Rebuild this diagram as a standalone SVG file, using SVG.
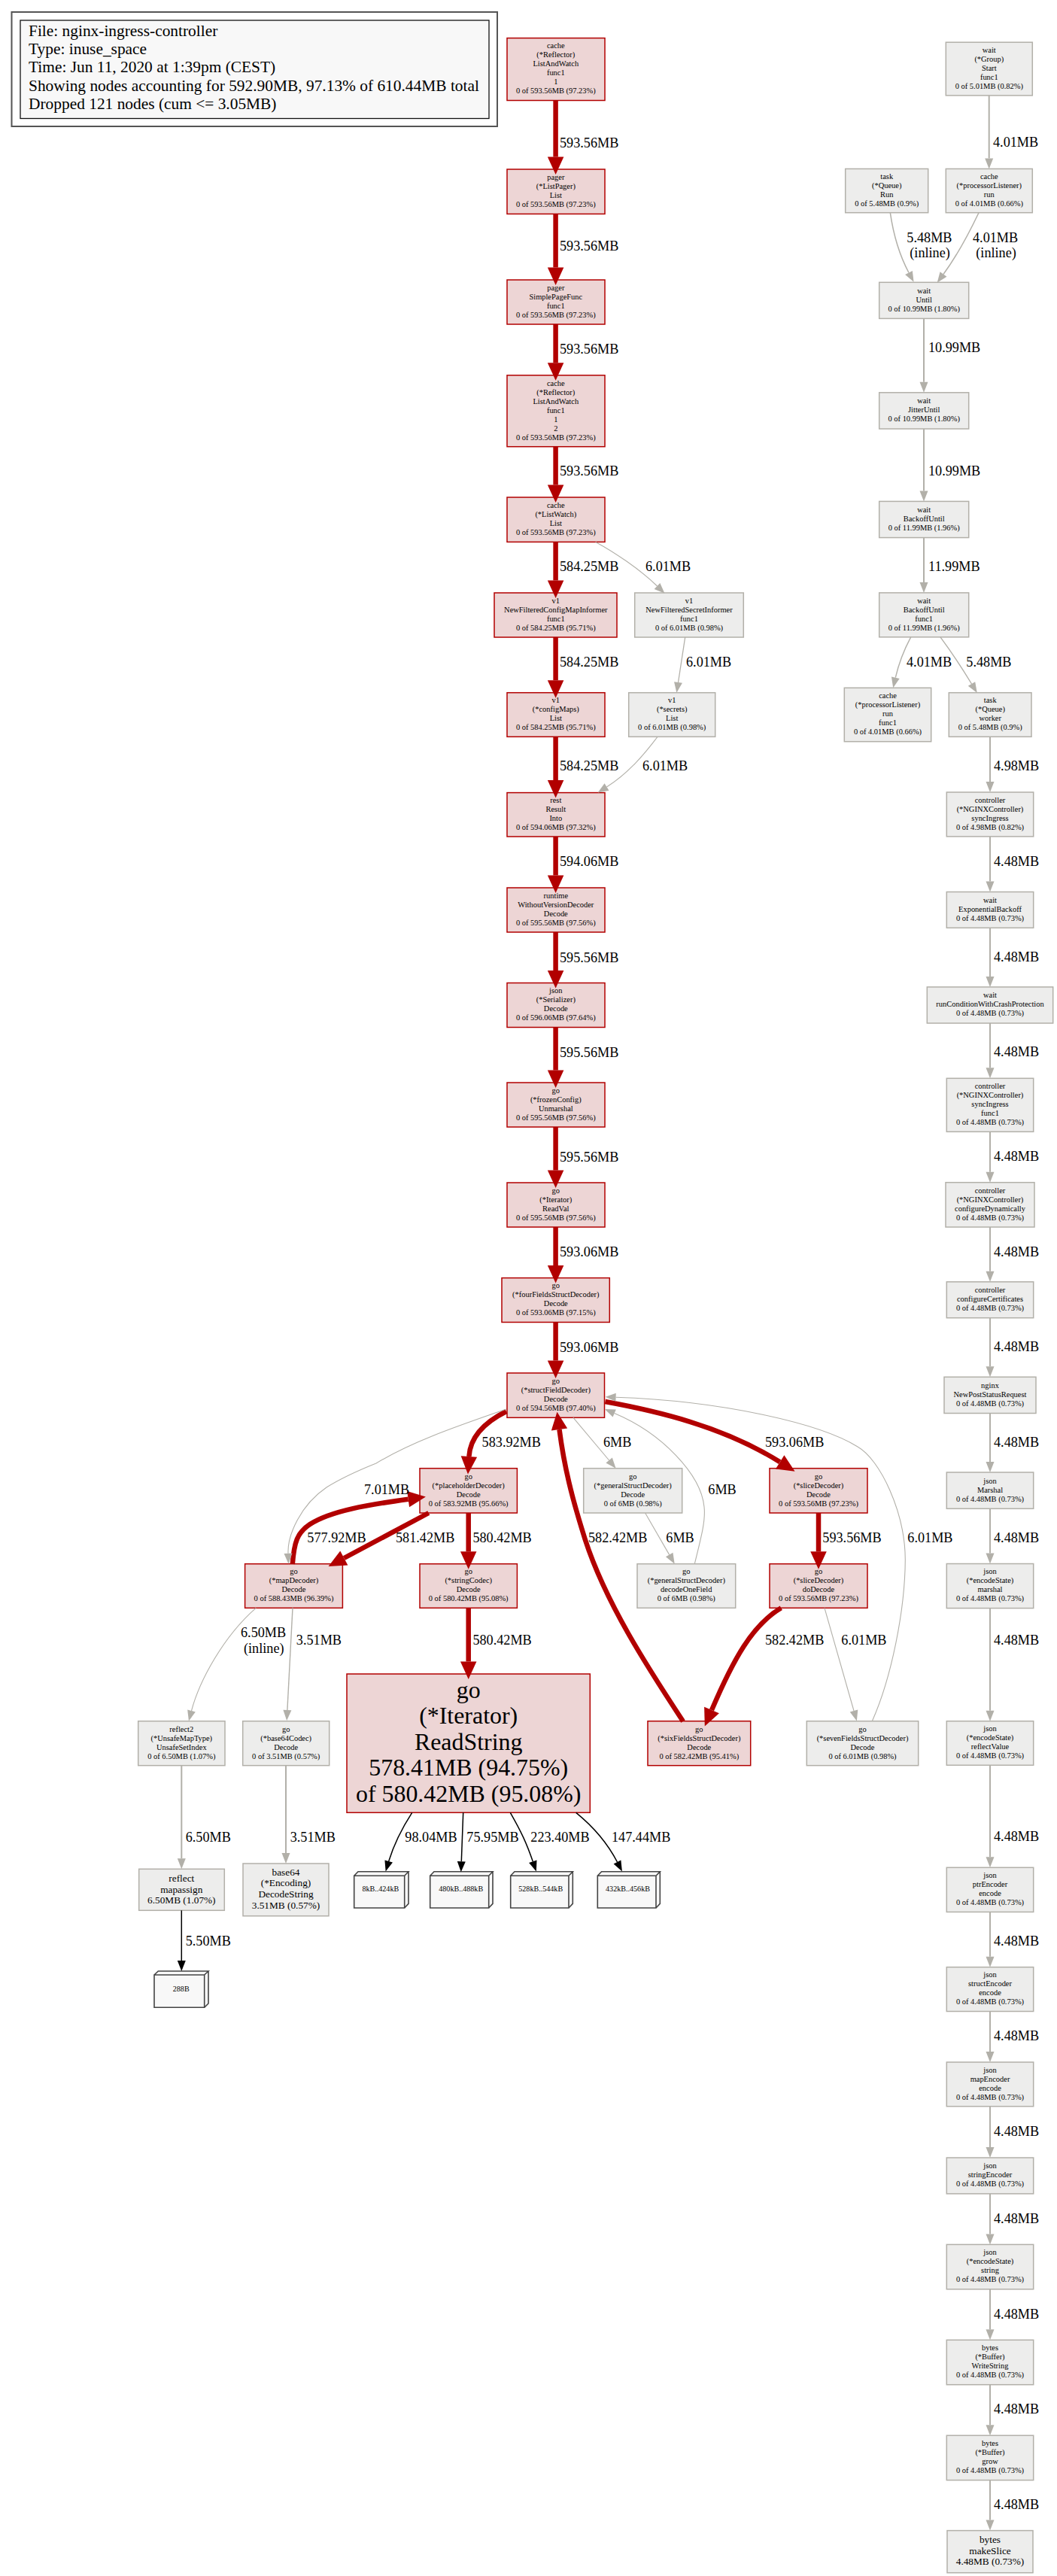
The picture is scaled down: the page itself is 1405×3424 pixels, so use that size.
<svg xmlns="http://www.w3.org/2000/svg" width="1405" height="3424" viewBox="0 0 1405 3424">
<style>
text{font-family:"Liberation Serif","Times New Roman",serif;fill:#000}
.n{font-size:10.45px;text-anchor:middle}
.l{font-size:18.2px}
.lg{font-size:21.4px}
.m{font-size:13.3px;text-anchor:middle}
.b{font-size:10.1px;text-anchor:middle}
.big{font-size:31.9px;text-anchor:middle}
.r{fill:#edd5d5;stroke:#b20000;stroke-width:1.5}
.g{fill:#ededec;stroke:#b2b0a9;stroke-width:1.5}
.d{fill:#f8f8f8;stroke:#444;stroke-width:1.6;stroke-linejoin:miter}
.er{fill:none;stroke:#b20000;stroke-width:6.5;marker-end:url(#ar)}
.eg{fill:none;stroke:#b2b0a9;stroke-width:2;marker-end:url(#ag)}
.et{fill:none;stroke:#b2b0a9;stroke-width:1.1;marker-end:url(#ag)}
.ek{fill:none;stroke:#000;stroke-width:1.5;marker-end:url(#ak)}
</style>
<defs>
<marker id="ar" markerUnits="userSpaceOnUse" markerWidth="30" markerHeight="30" refX="0" refY="0" orient="auto" overflow="visible"><polygon points="0,-10.75 23.5,0 0,10.75" fill="#b20000"/></marker>
<marker id="ag" markerUnits="userSpaceOnUse" markerWidth="20" markerHeight="20" refX="0" refY="0" orient="auto" overflow="visible"><polygon points="0,-5.5 14,0 0,5.5" fill="#b2b0a9"/></marker>
<marker id="ak" markerUnits="userSpaceOnUse" markerWidth="20" markerHeight="20" refX="0" refY="0" orient="auto" overflow="visible"><polygon points="0,-5.5 14,0 0,5.5" fill="#000"/></marker>
</defs>
<rect width="1405" height="3424" fill="#fff"/>
<g id="legend">
<rect x="15.5" y="16" width="645.5" height="152" fill="#fff" stroke="#555" stroke-width="2"/>
<rect x="27" y="27" width="623" height="130.5" fill="#f8f8f8" stroke="#111" stroke-width="1.3"/>
<text class="lg" x="38" y="48">File: nginx-ingress-controller</text>
<text class="lg" x="38" y="72.2">Type: inuse_space</text>
<text class="lg" x="38" y="96.4">Time: Jun 11, 2020 at 1:39pm (CEST)</text>
<text class="lg" x="38" y="120.6">Showing nodes accounting for 592.90MB, 97.13% of 610.44MB total</text>
<text class="lg" x="38" y="144.8">Dropped 121 nodes (cum &lt;= 3.05MB)</text>
</g>
<g id="n1"><rect class="r" x="674" y="50.6" width="130" height="82.9"/><text class="n" y="64.3"><tspan x="738.8">cache</tspan><tspan x="738.8" dy="12">(*Reflector)</tspan><tspan x="738.8" dy="12">ListAndWatch</tspan><tspan x="738.8" dy="12">func1</tspan><tspan x="738.8" dy="12">1</tspan><tspan x="738.8" dy="12">0 of 593.56MB (97.23%)</tspan></text></g>
<g id="n2"><rect class="r" x="674" y="225" width="130" height="59.4"/><text class="n" y="239"><tspan x="738.8">pager</tspan><tspan x="738.8" dy="12">(*ListPager)</tspan><tspan x="738.8" dy="12">List</tspan><tspan x="738.8" dy="12">0 of 593.56MB (97.23%)</tspan></text></g>
<g id="n3"><rect class="r" x="674" y="372" width="130" height="59"/><text class="n" y="385.8"><tspan x="738.8">pager</tspan><tspan x="738.8" dy="12">SimplePageFunc</tspan><tspan x="738.8" dy="12">func1</tspan><tspan x="738.8" dy="12">0 of 593.56MB (97.23%)</tspan></text></g>
<g id="n4"><rect class="r" x="674" y="498.8" width="130" height="94.9"/><text class="n" y="512.5"><tspan x="738.8">cache</tspan><tspan x="738.8" dy="12">(*Reflector)</tspan><tspan x="738.8" dy="12">ListAndWatch</tspan><tspan x="738.8" dy="12">func1</tspan><tspan x="738.8" dy="12">1</tspan><tspan x="738.8" dy="12">2</tspan><tspan x="738.8" dy="12">0 of 593.56MB (97.23%)</tspan></text></g>
<g id="n5"><rect class="r" x="674" y="661" width="130" height="59.4"/><text class="n" y="675"><tspan x="738.8">cache</tspan><tspan x="738.8" dy="12">(*ListWatch)</tspan><tspan x="738.8" dy="12">List</tspan><tspan x="738.8" dy="12">0 of 593.56MB (97.23%)</tspan></text></g>
<g id="n6"><rect class="r" x="657" y="788" width="163" height="59"/><text class="n" y="801.8"><tspan x="738.8">v1</tspan><tspan x="738.8" dy="12">NewFilteredConfigMapInformer</tspan><tspan x="738.8" dy="12">func1</tspan><tspan x="738.8" dy="12">0 of 584.25MB (95.71%)</tspan></text></g>
<g id="n7"><rect class="g" x="843.7" y="788" width="144.6" height="59"/><text class="n" y="801.8"><tspan x="916">v1</tspan><tspan x="916" dy="12">NewFilteredSecretInformer</tspan><tspan x="916" dy="12">func1</tspan><tspan x="916" dy="12">0 of 6.01MB (0.98%)</tspan></text></g>
<g id="n8"><rect class="r" x="674" y="920.7" width="130" height="58.6"/><text class="n" y="934.3"><tspan x="738.8">v1</tspan><tspan x="738.8" dy="12">(*configMaps)</tspan><tspan x="738.8" dy="12">List</tspan><tspan x="738.8" dy="12">0 of 584.25MB (95.71%)</tspan></text></g>
<g id="n9"><rect class="g" x="835.7" y="920.7" width="115" height="58.6"/><text class="n" y="934.3"><tspan x="893.2">v1</tspan><tspan x="893.2" dy="12">(*secrets)</tspan><tspan x="893.2" dy="12">List</tspan><tspan x="893.2" dy="12">0 of 6.01MB (0.98%)</tspan></text></g>
<g id="n10"><rect class="r" x="674" y="1053.6" width="130" height="58.4"/><text class="n" y="1067.1"><tspan x="738.8">rest</tspan><tspan x="738.8" dy="12">Result</tspan><tspan x="738.8" dy="12">Into</tspan><tspan x="738.8" dy="12">0 of 594.06MB (97.32%)</tspan></text></g>
<g id="n11"><rect class="r" x="674" y="1180" width="130" height="59"/><text class="n" y="1193.8"><tspan x="738.8">runtime</tspan><tspan x="738.8" dy="12">WithoutVersionDecoder</tspan><tspan x="738.8" dy="12">Decode</tspan><tspan x="738.8" dy="12">0 of 595.56MB (97.56%)</tspan></text></g>
<g id="n12"><rect class="r" x="674" y="1306.5" width="130" height="59"/><text class="n" y="1320.3"><tspan x="738.8">json</tspan><tspan x="738.8" dy="12">(*Serializer)</tspan><tspan x="738.8" dy="12">Decode</tspan><tspan x="738.8" dy="12">0 of 596.06MB (97.64%)</tspan></text></g>
<g id="n13"><rect class="r" x="674" y="1439" width="130" height="59"/><text class="n" y="1452.8"><tspan x="738.8">go</tspan><tspan x="738.8" dy="12">(*frozenConfig)</tspan><tspan x="738.8" dy="12">Unmarshal</tspan><tspan x="738.8" dy="12">0 of 595.56MB (97.56%)</tspan></text></g>
<g id="n14"><rect class="r" x="674" y="1572" width="130" height="59"/><text class="n" y="1585.8"><tspan x="738.8">go</tspan><tspan x="738.8" dy="12">(*Iterator)</tspan><tspan x="738.8" dy="12">ReadVal</tspan><tspan x="738.8" dy="12">0 of 595.56MB (97.56%)</tspan></text></g>
<g id="n15"><rect class="r" x="667" y="1698.6" width="143.3" height="58.9"/><text class="n" y="1712.3"><tspan x="738.8">go</tspan><tspan x="738.8" dy="12">(*fourFieldsStructDecoder)</tspan><tspan x="738.8" dy="12">Decode</tspan><tspan x="738.8" dy="12">0 of 593.06MB (97.15%)</tspan></text></g>
<g id="n16"><rect class="r" x="674" y="1825" width="129.5" height="59.3"/><text class="n" y="1839"><tspan x="738.8">go</tspan><tspan x="738.8" dy="12">(*structFieldDecoder)</tspan><tspan x="738.8" dy="12">Decode</tspan><tspan x="738.8" dy="12">0 of 594.56MB (97.40%)</tspan></text></g>
<g id="n17"><rect class="r" x="558" y="1951.7" width="129.4" height="59.3"/><text class="n" y="1965.6"><tspan x="622.7">go</tspan><tspan x="622.7" dy="12">(*placeholderDecoder)</tspan><tspan x="622.7" dy="12">Decode</tspan><tspan x="622.7" dy="12">0 of 583.92MB (95.66%)</tspan></text></g>
<g id="n18"><rect class="r" x="325.6" y="2078.7" width="129.8" height="58.6"/><text class="n" y="2092.3"><tspan x="390.5">go</tspan><tspan x="390.5" dy="12">(*mapDecoder)</tspan><tspan x="390.5" dy="12">Decode</tspan><tspan x="390.5" dy="12">0 of 588.43MB (96.39%)</tspan></text></g>
<g id="n19"><rect class="r" x="558" y="2078.7" width="129.4" height="58.6"/><text class="n" y="2092.3"><tspan x="622.7">go</tspan><tspan x="622.7" dy="12">(*stringCodec)</tspan><tspan x="622.7" dy="12">Decode</tspan><tspan x="622.7" dy="12">0 of 580.42MB (95.08%)</tspan></text></g>
<g id="n20"><rect class="r" x="461" y="2225" width="323.3" height="184.3"/><text class="big" y="2257"><tspan x="622.7">go</tspan><tspan x="622.7" dy="34.4">(*Iterator)</tspan><tspan x="622.7" dy="34.4">ReadString</tspan><tspan x="622.7" dy="34.4">578.41MB (94.75%)</tspan><tspan x="622.7" dy="34.4">of 580.42MB (95.08%)</tspan></text></g>
<g id="n21"><rect class="g" x="775.7" y="1951.7" width="131" height="59.3"/><text class="n" y="1965.6"><tspan x="841.2">go</tspan><tspan x="841.2" dy="12">(*generalStructDecoder)</tspan><tspan x="841.2" dy="12">Decode</tspan><tspan x="841.2" dy="12">0 of 6MB (0.98%)</tspan></text></g>
<g id="n22"><rect class="g" x="847" y="2078.7" width="130.7" height="58.6"/><text class="n" y="2092.3"><tspan x="912.3">go</tspan><tspan x="912.3" dy="12">(*generalStructDecoder)</tspan><tspan x="912.3" dy="12">decodeOneField</tspan><tspan x="912.3" dy="12">0 of 6MB (0.98%)</tspan></text></g>
<g id="n23"><rect class="r" x="1023" y="1951.7" width="130" height="59.3"/><text class="n" y="1965.6"><tspan x="1088">go</tspan><tspan x="1088" dy="12">(*sliceDecoder)</tspan><tspan x="1088" dy="12">Decode</tspan><tspan x="1088" dy="12">0 of 593.56MB (97.23%)</tspan></text></g>
<g id="n24"><rect class="r" x="1023" y="2078.7" width="130" height="58.6"/><text class="n" y="2092.3"><tspan x="1088">go</tspan><tspan x="1088" dy="12">(*sliceDecoder)</tspan><tspan x="1088" dy="12">doDecode</tspan><tspan x="1088" dy="12">0 of 593.56MB (97.23%)</tspan></text></g>
<g id="n25"><rect class="r" x="861" y="2287.7" width="136.7" height="59"/><text class="n" y="2301.5"><tspan x="929.3">go</tspan><tspan x="929.3" dy="12">(*sixFieldsStructDecoder)</tspan><tspan x="929.3" dy="12">Decode</tspan><tspan x="929.3" dy="12">0 of 582.42MB (95.41%)</tspan></text></g>
<g id="n26"><rect class="g" x="1072.3" y="2287.7" width="148.4" height="59"/><text class="n" y="2301.5"><tspan x="1146.5">go</tspan><tspan x="1146.5" dy="12">(*sevenFieldsStructDecoder)</tspan><tspan x="1146.5" dy="12">Decode</tspan><tspan x="1146.5" dy="12">0 of 6.01MB (0.98%)</tspan></text></g>
<g id="n27"><rect class="g" x="183.7" y="2287.7" width="115.3" height="59"/><text class="n" y="2301.5"><tspan x="241.3">reflect2</tspan><tspan x="241.3" dy="12">(*UnsafeMapType)</tspan><tspan x="241.3" dy="12">UnsafeSetIndex</tspan><tspan x="241.3" dy="12">0 of 6.50MB (1.07%)</tspan></text></g>
<g id="n28"><rect class="g" x="322.7" y="2287.7" width="115" height="59"/><text class="n" y="2301.5"><tspan x="380.2">go</tspan><tspan x="380.2" dy="12">(*base64Codec)</tspan><tspan x="380.2" dy="12">Decode</tspan><tspan x="380.2" dy="12">0 of 3.51MB (0.57%)</tspan></text></g>
<g id="n29"><rect class="g" x="184.7" y="2484.3" width="113.6" height="55"/><text class="m" y="2501"><tspan x="241.3">reflect</tspan><tspan x="241.3" dy="14.6">mapassign</tspan><tspan x="241.3" dy="14.6">6.50MB (1.07%)</tspan></text></g>
<g id="n30"><rect class="g" x="323" y="2477" width="114" height="69.7"/><text class="m" y="2492.7"><tspan x="380">base64</tspan><tspan x="380" dy="14.6">(*Encoding)</tspan><tspan x="380" dy="14.6">DecodeString</tspan><tspan x="380" dy="14.6">3.51MB (0.57%)</tspan></text></g>
<g id="n31"><path class="d" d="M205 2625h66.7v43.3h-66.7zM205 2625l5.3-5h66.7l-5.3 5M271.7 2668.3l5.3-5.3v-43"/><text class="b" x="240.7" y="2646.7">288B</text></g>
<g id="n32"><path class="d" d="M470.7 2493.3h67v42.7h-67zM470.7 2493.3l5.3-5.6h67l-5.3 5.6M537.7 2536l5.3-5.6v-42.7"/><text class="b" x="505.8" y="2514.3">8kB..424kB</text></g>
<g id="n33"><path class="d" d="M571.7 2493.3h78v42.7h-78zM571.7 2493.3l5.3-5.6h78l-5.3 5.6M649.7 2536l5.3-5.6v-42.7"/><text class="b" x="612.7" y="2514.3">480kB..488kB</text></g>
<g id="n34"><path class="d" d="M678.7 2493.3h77.3v42.7h-77.3zM678.7 2493.3l5.3-5.6h77.3l-5.3 5.6M756 2536l5.3-5.6v-42.7"/><text class="b" x="718.7" y="2514.3">528kB..544kB</text></g>
<g id="n35"><path class="d" d="M794.3 2493.3h77.7v42.7h-77.7zM794.3 2493.3l5.3-5.6h77.7l-5.3 5.6M872 2536l5.3-5.6v-42.7"/><text class="b" x="834.5" y="2514.3">432kB..456kB</text></g>
<g id="n36"><rect class="g" x="1257.3" y="56.2" width="115" height="70.7"/><text class="n" y="69.8"><tspan x="1314.8">wait</tspan><tspan x="1314.8" dy="12">(*Group)</tspan><tspan x="1314.8" dy="12">Start</tspan><tspan x="1314.8" dy="12">func1</tspan><tspan x="1314.8" dy="12">0 of 5.01MB (0.82%)</tspan></text></g>
<g id="n37"><rect class="g" x="1123.7" y="224.4" width="110" height="58.3"/><text class="n" y="237.8"><tspan x="1178.7">task</tspan><tspan x="1178.7" dy="12">(*Queue)</tspan><tspan x="1178.7" dy="12">Run</tspan><tspan x="1178.7" dy="12">0 of 5.48MB (0.9%)</tspan></text></g>
<g id="n38"><rect class="g" x="1257.3" y="224.4" width="115" height="58.3"/><text class="n" y="237.8"><tspan x="1314.8">cache</tspan><tspan x="1314.8" dy="12">(*processorListener)</tspan><tspan x="1314.8" dy="12">run</tspan><tspan x="1314.8" dy="12">0 of 4.01MB (0.66%)</tspan></text></g>
<g id="n39"><rect class="g" x="1168.7" y="375.3" width="119" height="48.1"/><text class="n" y="389.7"><tspan x="1228.2">wait</tspan><tspan x="1228.2" dy="12">Until</tspan><tspan x="1228.2" dy="12">0 of 10.99MB (1.80%)</tspan></text></g>
<g id="n40"><rect class="g" x="1168.7" y="521.8" width="119" height="48.2"/><text class="n" y="536.2"><tspan x="1228.2">wait</tspan><tspan x="1228.2" dy="12">JitterUntil</tspan><tspan x="1228.2" dy="12">0 of 10.99MB (1.80%)</tspan></text></g>
<g id="n41"><rect class="g" x="1168.7" y="666.4" width="119" height="48.2"/><text class="n" y="680.8"><tspan x="1228.2">wait</tspan><tspan x="1228.2" dy="12">BackoffUntil</tspan><tspan x="1228.2" dy="12">0 of 11.99MB (1.96%)</tspan></text></g>
<g id="n42"><rect class="g" x="1168.7" y="787.9" width="119" height="58.9"/><text class="n" y="801.7"><tspan x="1228.2">wait</tspan><tspan x="1228.2" dy="12">BackoffUntil</tspan><tspan x="1228.2" dy="12">func1</tspan><tspan x="1228.2" dy="12">0 of 11.99MB (1.96%)</tspan></text></g>
<g id="n43"><rect class="g" x="1122.3" y="914.3" width="115.4" height="71.4"/><text class="n" y="928.3"><tspan x="1180">cache</tspan><tspan x="1180" dy="12">(*processorListener)</tspan><tspan x="1180" dy="12">run</tspan><tspan x="1180" dy="12">func1</tspan><tspan x="1180" dy="12">0 of 4.01MB (0.66%)</tspan></text></g>
<g id="n44"><rect class="g" x="1261.3" y="920.7" width="109.7" height="58.6"/><text class="n" y="934.3"><tspan x="1316.2">task</tspan><tspan x="1316.2" dy="12">(*Queue)</tspan><tspan x="1316.2" dy="12">worker</tspan><tspan x="1316.2" dy="12">0 of 5.48MB (0.9%)</tspan></text></g>
<g id="n45"><rect class="g" x="1258.3" y="1053" width="115.4" height="58.9"/><text class="n" y="1066.8"><tspan x="1316">controller</tspan><tspan x="1316" dy="12">(*NGINXController)</tspan><tspan x="1316" dy="12">syncIngress</tspan><tspan x="1316" dy="12">0 of 4.98MB (0.82%)</tspan></text></g>
<g id="n46"><rect class="g" x="1258.3" y="1185.5" width="115.4" height="47.8"/><text class="n" y="1199.7"><tspan x="1316">wait</tspan><tspan x="1316" dy="12">ExponentialBackoff</tspan><tspan x="1316" dy="12">0 of 4.48MB (0.73%)</tspan></text></g>
<g id="n47"><rect class="g" x="1232.3" y="1311.9" width="167.4" height="48.1"/><text class="n" y="1326.3"><tspan x="1316">wait</tspan><tspan x="1316" dy="12">runConditionWithCrashProtection</tspan><tspan x="1316" dy="12">0 of 4.48MB (0.73%)</tspan></text></g>
<g id="n48"><rect class="g" x="1258.3" y="1433.3" width="115.4" height="71"/><text class="n" y="1447.1"><tspan x="1316">controller</tspan><tspan x="1316" dy="12">(*NGINXController)</tspan><tspan x="1316" dy="12">syncIngress</tspan><tspan x="1316" dy="12">func1</tspan><tspan x="1316" dy="12">0 of 4.48MB (0.73%)</tspan></text></g>
<g id="n49"><rect class="g" x="1257" y="1571.7" width="118" height="59.3"/><text class="n" y="1585.7"><tspan x="1316">controller</tspan><tspan x="1316" dy="12">(*NGINXController)</tspan><tspan x="1316" dy="12">configureDynamically</tspan><tspan x="1316" dy="12">0 of 4.48MB (0.73%)</tspan></text></g>
<g id="n50"><rect class="g" x="1258.3" y="1703.8" width="115.4" height="47.9"/><text class="n" y="1718.1"><tspan x="1316">controller</tspan><tspan x="1316" dy="12">configureCertificates</tspan><tspan x="1316" dy="12">0 of 4.48MB (0.73%)</tspan></text></g>
<g id="n51"><rect class="g" x="1255" y="1830.3" width="122" height="48.2"/><text class="n" y="1844.7"><tspan x="1316">nginx</tspan><tspan x="1316" dy="12">NewPostStatusRequest</tspan><tspan x="1316" dy="12">0 of 4.48MB (0.73%)</tspan></text></g>
<g id="n52"><rect class="g" x="1258.3" y="1957" width="115.4" height="48.3"/><text class="n" y="1971.5"><tspan x="1316">json</tspan><tspan x="1316" dy="12">Marshal</tspan><tspan x="1316" dy="12">0 of 4.48MB (0.73%)</tspan></text></g>
<g id="n53"><rect class="g" x="1258.3" y="2078.5" width="115.4" height="59.1"/><text class="n" y="2092.3"><tspan x="1316">json</tspan><tspan x="1316" dy="12">(*encodeState)</tspan><tspan x="1316" dy="12">marshal</tspan><tspan x="1316" dy="12">0 of 4.48MB (0.73%)</tspan></text></g>
<g id="n54"><rect class="g" x="1258.3" y="2287.7" width="115.4" height="58.6"/><text class="n" y="2301.3"><tspan x="1316">json</tspan><tspan x="1316" dy="12">(*encodeState)</tspan><tspan x="1316" dy="12">reflectValue</tspan><tspan x="1316" dy="12">0 of 4.48MB (0.73%)</tspan></text></g>
<g id="n55"><rect class="g" x="1258.3" y="2482.3" width="115.4" height="59.1"/><text class="n" y="2496.2"><tspan x="1316">json</tspan><tspan x="1316" dy="12">ptrEncoder</tspan><tspan x="1316" dy="12">encode</tspan><tspan x="1316" dy="12">0 of 4.48MB (0.73%)</tspan></text></g>
<g id="n56"><rect class="g" x="1258.3" y="2614.7" width="115.4" height="58.8"/><text class="n" y="2628.4"><tspan x="1316">json</tspan><tspan x="1316" dy="12">structEncoder</tspan><tspan x="1316" dy="12">encode</tspan><tspan x="1316" dy="12">0 of 4.48MB (0.73%)</tspan></text></g>
<g id="n57"><rect class="g" x="1258.3" y="2741" width="115.4" height="58.8"/><text class="n" y="2754.7"><tspan x="1316">json</tspan><tspan x="1316" dy="12">mapEncoder</tspan><tspan x="1316" dy="12">encode</tspan><tspan x="1316" dy="12">0 of 4.48MB (0.73%)</tspan></text></g>
<g id="n58"><rect class="g" x="1258.3" y="2868" width="115.4" height="47.9"/><text class="n" y="2882.3"><tspan x="1316">json</tspan><tspan x="1316" dy="12">stringEncoder</tspan><tspan x="1316" dy="12">0 of 4.48MB (0.73%)</tspan></text></g>
<g id="n59"><rect class="g" x="1258.3" y="2983.4" width="115.4" height="59.4"/><text class="n" y="2997.4"><tspan x="1316">json</tspan><tspan x="1316" dy="12">(*encodeState)</tspan><tspan x="1316" dy="12">string</tspan><tspan x="1316" dy="12">0 of 4.48MB (0.73%)</tspan></text></g>
<g id="n60"><rect class="g" x="1258.3" y="3110.3" width="115.4" height="59.4"/><text class="n" y="3124.3"><tspan x="1316">bytes</tspan><tspan x="1316" dy="12">(*Buffer)</tspan><tspan x="1316" dy="12">WriteString</tspan><tspan x="1316" dy="12">0 of 4.48MB (0.73%)</tspan></text></g>
<g id="n61"><rect class="g" x="1258.3" y="3237.2" width="115.4" height="59.4"/><text class="n" y="3251.2"><tspan x="1316">bytes</tspan><tspan x="1316" dy="12">(*Buffer)</tspan><tspan x="1316" dy="12">grow</tspan><tspan x="1316" dy="12">0 of 4.48MB (0.73%)</tspan></text></g>
<g id="n62"><rect class="g" x="1259" y="3363.6" width="114" height="56.1"/><text class="m" y="3380"><tspan x="1316">bytes</tspan><tspan x="1316" dy="14.6">makeSlice</tspan><tspan x="1316" dy="14.6">4.48MB (0.73%)</tspan></text></g>
<g id="connectors">
<path class="er" d="M738.6 133.5V208.5"/><path class="er" d="M738.6 284.4V355.5"/><path class="er" d="M738.6 431V482.3"/><path class="er" d="M738.6 593.7V644.5"/><path class="er" d="M738.6 720.4V771.5"/><path class="er" d="M738.6 847V904.2"/><path class="er" d="M738.6 979.3V1037"/><path class="er" d="M738.6 1112V1163.5"/><path class="er" d="M738.6 1239V1290"/><path class="er" d="M738.6 1365.5V1422.5"/><path class="er" d="M738.6 1498V1555.5"/><path class="er" d="M738.6 1631V1682"/><path class="er" d="M738.6 1757.5V1808.5"/>
<path class="et" d="M791.7 720.4C815 733 850 756 873.5 779"/>
<path class="eg" style="stroke-width:1.3" d="M910.7 847L901.5 907"/>
<path class="et" d="M874 979.3C856 1003 835 1028 806.5 1046"/>
<path class="er" d="M673 1876C645 1890 625 1910 623.4 1936"/>
<path class="er" d="M388.8 2079C391 2050 395 2037 412 2026C440 2008 490 2000 542.6 1992.7"/>
<path class="er" d="M569.8 2011L457.3 2071"/>
<path class="er" d="M622.7 2011V2062.3"/>
<path class="er" d="M622.7 2137.3V2208.5"/>
<path class="er" d="M908 2288C860 2215 805 2130 778 2047C760 1990 750 1950 743.5 1900"/>
<path class="er" d="M804.4 1863C870 1875 960 1895 1036.7 1943.3"/>
<path class="er" d="M1088 2011V2062.3"/>
<path class="er" d="M1038.3 2137.3C1000 2160 975 2205 946 2273"/>
<path class="et" d="M762 1884.3L809.6 1941"/>
<path class="et" d="M857.6 2011L889.7 2066.6"/>
<path class="et" d="M923.3 2078.7C933 2040 938 2020 936 2003C932 1960 880 1905 816.7 1878.5"/>
<path class="et" d="M673 1873C610 1895 550 1915 500 1945C470 1957 450 1967 434 1977C400 2000 382 2040 383 2064.7"/>
<path class="et" d="M1159.3 2287.7C1185 2230 1203 2140 1203.3 2073C1203 2010 1170 1940 1140 1923C1090 1892 960 1862 818.6 1857.3"/>
<path class="et" d="M1096 2137.3L1135 2274"/>
<path class="et" d="M340.2 2137.3C320 2155 300 2180 285 2205C270 2230 260 2253 254.5 2274"/>
<path class="et" style="stroke-width:1.4" d="M389 2137.3L381.9 2273"/>
<path class="eg" d="M241.3 2347V2470.3"/><path class="eg" d="M380 2347V2463"/>
<path class="ek" d="M241.3 2539.3V2606"/>
<path class="ek" d="M547.7 2409.3C533 2432 524 2450 516.7 2474"/>
<path class="ek" d="M615.7 2409.3L613.3 2474.3"/>
<path class="ek" d="M678.3 2409.3C693 2435 700 2450 708.3 2474.3"/>
<path class="ek" d="M765.7 2409.3C785 2425 805 2445 820.5 2475"/>
<path class="eg" d="M1314.7 126.9V210.4"/>
<path class="et" style="stroke-width:1.5" d="M1183.3 282.7C1188 315 1196 340 1208 362.5"/>
<path class="et" style="stroke-width:1.5" d="M1301 282.7C1288 310 1272 340 1254 364.5"/>
<path class="eg" d="M1228 423.4V507.8"/><path class="eg" d="M1228 570V652.4"/><path class="eg" d="M1228 714.6V773.9"/>
<path class="et" style="stroke-width:1.4" d="M1210.7 846.8C1201 865 1195 880 1190.3 900.7"/>
<path class="et" style="stroke-width:1.4" d="M1250 846.8C1265 867 1280 890 1291.5 909"/>
<path class="eg" d="M1316 979.3V1039"/><path class="eg" d="M1316 1111.9V1171.5"/><path class="eg" d="M1316 1233.3V1297.9"/><path class="eg" d="M1316 1360V1419.3"/><path class="eg" d="M1316 1504.3V1557.7"/><path class="eg" d="M1316 1631V1689.8"/><path class="eg" d="M1316 1751.7V1816.3"/><path class="eg" d="M1316 1878.5V1943"/><path class="eg" d="M1316 2005.3V2064.5"/><path class="eg" d="M1316 2137.6V2273.7"/><path class="eg" d="M1316 2346.3V2468.3"/><path class="eg" d="M1316 2541.4V2600.7"/><path class="eg" d="M1316 2673.5V2727"/><path class="eg" d="M1316 2799.8V2854"/><path class="eg" d="M1316 2915.9V2969.4"/><path class="eg" d="M1316 3042.8V3096.3"/><path class="eg" d="M1316 3169.7V3223.2"/><path class="eg" d="M1316 3296.6V3349.6"/>
<g id="edge-labels">
<text class="l" x="744" y="195.7">593.56MB</text><text class="l" x="744" y="332.5">593.56MB</text><text class="l" x="744" y="469.7">593.56MB</text><text class="l" x="744" y="632">593.56MB</text><text class="l" x="744" y="759.3">584.25MB</text><text class="l" x="744" y="886">584.25MB</text><text class="l" x="744" y="1023.6">584.25MB</text><text class="l" x="744" y="1151">594.06MB</text><text class="l" x="744" y="1278.8">595.56MB</text><text class="l" x="744" y="1405">595.56MB</text><text class="l" x="744" y="1543.8">595.56MB</text><text class="l" x="744" y="1670.4">593.06MB</text><text class="l" x="744" y="1796.6">593.06MB</text>
<text class="l" x="858" y="759.3">6.01MB</text><text class="l" x="912" y="886">6.01MB</text><text class="l" x="854" y="1023.6">6.01MB</text>
<text class="l" x="640.6" y="1923.3">583.92MB</text><text class="l" x="802" y="1923.3">6MB</text><text class="l" x="484" y="1986">7.01MB</text><text class="l" x="408.3" y="2050">577.92MB</text><text class="l" x="526" y="2050">581.42MB</text><text class="l" x="628.4" y="2050">580.42MB</text><text class="l" x="782" y="2050">582.42MB</text><text class="l" x="628.4" y="2186">580.42MB</text>
<text class="l" x="320" y="2176">6.50MB</text><text class="l" x="324" y="2197">(inline)</text><text class="l" x="393.8" y="2186">3.51MB</text>
<text class="l" x="1017" y="1922.7">593.06MB</text><text class="l" x="941.3" y="1986">6MB</text><text class="l" x="885.3" y="2050">6MB</text><text class="l" x="1093.3" y="2050">593.56MB</text><text class="l" x="1206.3" y="2050">6.01MB</text><text class="l" x="1017" y="2186">582.42MB</text><text class="l" x="1118.3" y="2186">6.01MB</text>
<text class="l" x="246.7" y="2447.7">6.50MB</text><text class="l" x="385.7" y="2447.7">3.51MB</text><text class="l" x="246.7" y="2585.7">5.50MB</text>
<text class="l" x="538.3" y="2448">98.04MB</text><text class="l" x="620.3" y="2448">75.95MB</text><text class="l" x="705.3" y="2448">223.40MB</text><text class="l" x="813" y="2448">147.44MB</text>
<text class="l" x="1320" y="195.2">4.01MB</text><text class="l" x="1205.3" y="321.9">5.48MB</text><text class="l" x="1209.3" y="342">(inline)</text><text class="l" x="1293" y="321.9">4.01MB</text><text class="l" x="1297.3" y="342">(inline)</text>
<text class="l" x="1234" y="467.8">10.99MB</text><text class="l" x="1234" y="632">10.99MB</text><text class="l" x="1234" y="759">11.99MB</text><text class="l" x="1205" y="885.7">4.01MB</text><text class="l" x="1284.3" y="885.7">5.48MB</text><text class="l" x="1321" y="1024">4.98MB</text>
<text class="l" x="1321" y="1150.7">4.48MB</text><text class="l" x="1321" y="1277.5">4.48MB</text><text class="l" x="1321" y="1403.8">4.48MB</text><text class="l" x="1321" y="1543">4.48MB</text><text class="l" x="1321" y="1669.5">4.48MB</text><text class="l" x="1321" y="1796">4.48MB</text><text class="l" x="1321" y="1923">4.48MB</text><text class="l" x="1321" y="2049.8">4.48MB</text><text class="l" x="1321" y="2186.4">4.48MB</text><text class="l" x="1321" y="2447">4.48MB</text><text class="l" x="1321" y="2586">4.48MB</text><text class="l" x="1321" y="2711.6">4.48MB</text><text class="l" x="1321" y="2839">4.48MB</text><text class="l" x="1321" y="2954.5">4.48MB</text><text class="l" x="1321" y="3082">4.48MB</text><text class="l" x="1321" y="3207.8">4.48MB</text><text class="l" x="1321" y="3334.7">4.48MB</text>
</g>
</g>
</svg>
